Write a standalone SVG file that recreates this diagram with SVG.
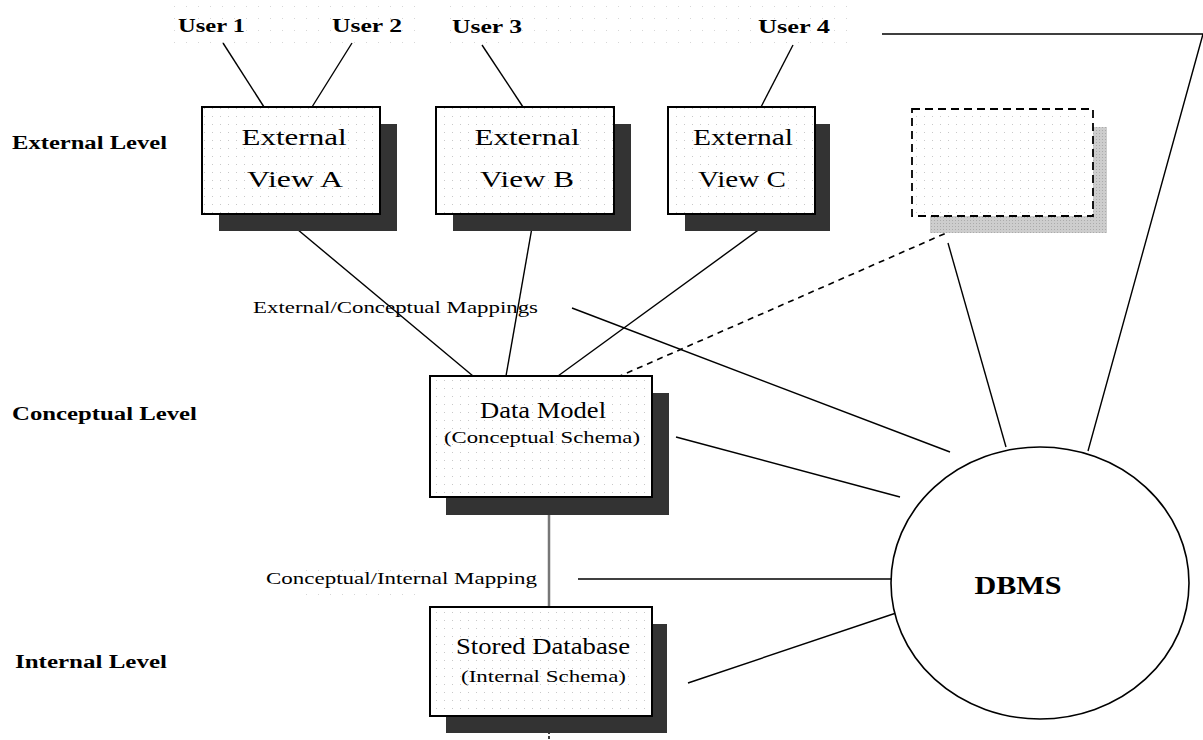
<svg xmlns="http://www.w3.org/2000/svg" width="1203" height="740" viewBox="0 0 1203 740">
<defs>
  <pattern id="dots" x="0" y="0" width="8" height="8" patternUnits="userSpaceOnUse">
    <rect x="4" y="4" width="1" height="1" fill="#c8c8c8"/>
  </pattern>
  <pattern id="bgDots" x="0" y="0" width="12" height="12" patternUnits="userSpaceOnUse">
    <rect x="6" y="6" width="1" height="1" fill="#d6d6d6"/>
  </pattern>
  <pattern id="grayDots" x="0" y="0" width="3" height="3" patternUnits="userSpaceOnUse">
    <rect width="3" height="3" fill="#cdcdcd"/>
    <rect x="1" y="1" width="1" height="1" fill="#ababab"/>
  </pattern>
</defs>
<style>
  .box { fill: #ffffff; stroke: #000; stroke-width: 2; }
  .dotfill { fill: url(#dots); }
  .bgdots { fill: url(#bgDots); }
  .shadow { fill: #333333; }
  .conn { stroke: #000; stroke-width: 1.4; fill: none; }
  .dash { stroke: #000; stroke-width: 1.6; fill: none; stroke-dasharray: 6 5; }
  .lvl { font-family: "Liberation Serif", serif; font-weight: bold; font-size: 18px; fill: #000; }
  .usr { font-family: "Liberation Serif", serif; font-weight: bold; font-size: 18px; fill: #000; }
  .bt { font-family: "Liberation Serif", serif; font-size: 23px; fill: #000; text-anchor: middle; }
  .st { font-family: "Liberation Serif", serif; font-size: 17px; fill: #000; }
  .dbms { font-family: "Liberation Serif", serif; font-size: 26px; font-weight: bold; fill: #000; text-anchor: middle; }
</style>
<rect width="1203" height="740" fill="#ffffff"/>

<!-- sparse background dots -->
<rect x="170" y="5" width="250" height="40" class="bgdots"/>
<rect x="440" y="5" width="180" height="40" class="bgdots"/>
<rect x="620" y="5" width="230" height="40" class="bgdots"/>
<rect x="300" y="560" width="120" height="40" class="bgdots"/>

<g id="labels">
  <text class="lvl" x="12" y="149" textLength="155" lengthAdjust="spacingAndGlyphs">External Level</text>
  <text class="lvl" x="12" y="420" textLength="185" lengthAdjust="spacingAndGlyphs">Conceptual Level</text>
  <text class="lvl" x="15" y="668" textLength="152" lengthAdjust="spacingAndGlyphs">Internal Level</text>
</g>

<g id="users">
  <text class="usr" x="178" y="32" textLength="67" lengthAdjust="spacingAndGlyphs">User 1</text>
  <text class="usr" x="332" y="32" textLength="70" lengthAdjust="spacingAndGlyphs">User 2</text>
  <text class="usr" x="452" y="33" textLength="70" lengthAdjust="spacingAndGlyphs">User 3</text>
  <text class="usr" x="758" y="33" textLength="72" lengthAdjust="spacingAndGlyphs">User 4</text>
</g>

<g id="connectors">
  <line class="conn" x1="223" y1="43" x2="264" y2="107"/>
  <line class="conn" x1="352" y1="43" x2="312" y2="107"/>
  <line class="conn" x1="482" y1="45" x2="523" y2="107"/>
  <line class="conn" x1="793" y1="45" x2="761" y2="107"/>
  <line class="conn" x1="279" y1="214" x2="473" y2="376"/>
  <line class="conn" x1="534" y1="216" x2="506" y2="376"/>
  <line class="conn" x1="779" y1="215" x2="558" y2="376"/>
  <line class="dash" x1="985" y1="216" x2="620" y2="376"/>
  <line class="conn" x1="572" y1="308" x2="950" y2="452"/>
  <line class="conn" x1="948" y1="243" x2="1006" y2="447"/>
  <polyline class="conn" points="882,34 1203,34 1088,451"/>
  <line class="conn" x1="676" y1="437" x2="900" y2="497"/>
  <line class="conn" x1="578" y1="579" x2="891" y2="579"/>
  <line class="conn" x1="688" y1="683" x2="911" y2="608"/>
  <line x1="549" y1="497" x2="549" y2="607" stroke="#777" stroke-width="2.5"/>
  <line x1="549" y1="716" x2="549" y2="740" stroke="#000" stroke-width="1.5" stroke-dasharray="3 2"/>
</g>

<g id="viewA">
  <rect class="shadow" x="219" y="124" width="178" height="107"/>
  <rect class="box" x="202" y="107" width="178" height="107"/>
  <rect class="dotfill" x="203" y="108" width="176" height="105"/>
  <text class="bt" x="294" y="145" textLength="105" lengthAdjust="spacingAndGlyphs">External</text>
  <text class="bt" x="295" y="187" textLength="96" lengthAdjust="spacingAndGlyphs">View A</text>
</g>
<g id="viewB">
  <rect class="shadow" x="453" y="124" width="178" height="107"/>
  <rect class="box" x="436" y="107" width="178" height="107"/>
  <rect class="dotfill" x="437" y="108" width="176" height="105"/>
  <text class="bt" x="527" y="145" textLength="105" lengthAdjust="spacingAndGlyphs">External</text>
  <text class="bt" x="527" y="187" textLength="94" lengthAdjust="spacingAndGlyphs">View B</text>
</g>
<g id="viewC">
  <rect class="shadow" x="685" y="124" width="145" height="107"/>
  <rect class="box" x="668" y="107" width="147" height="107"/>
  <rect class="dotfill" x="669" y="108" width="145" height="105"/>
  <text class="bt" x="743" y="145" textLength="100" lengthAdjust="spacingAndGlyphs">External</text>
  <text class="bt" x="742" y="187" textLength="88" lengthAdjust="spacingAndGlyphs">View C</text>
</g>
<g id="viewD">
  <rect x="930" y="127" width="177" height="106" fill="url(#grayDots)"/>
  <rect x="912" y="109" width="181" height="107" fill="#ffffff"/>
  <rect class="dotfill" x="913" y="110" width="179" height="105"/>
  <rect x="912" y="109" width="181" height="107" fill="none" stroke="#000" stroke-width="1.8" stroke-dasharray="8 5"/>
</g>

<g id="dataModel">
  <rect class="shadow" x="446" y="393" width="223" height="122"/>
  <rect class="box" x="430" y="376" width="222" height="121"/>
  <rect class="dotfill" x="431" y="377" width="220" height="119"/>
  <text class="bt" x="543" y="418" font-size="20" textLength="126" lengthAdjust="spacingAndGlyphs">Data Model</text>
  <text class="st" x="444" y="443" textLength="196" lengthAdjust="spacingAndGlyphs">(Conceptual Schema)</text>
</g>

<g id="storedDb">
  <rect class="shadow" x="446" y="624" width="221" height="109"/>
  <rect class="box" x="430" y="607" width="222" height="109"/>
  <rect class="dotfill" x="431" y="608" width="220" height="107"/>
  <text class="bt" x="543" y="654" font-size="19" textLength="174" lengthAdjust="spacingAndGlyphs">Stored Database</text>
  <text class="st" x="461" y="682" textLength="165" lengthAdjust="spacingAndGlyphs">(Internal Schema)</text>
</g>

<g id="mappingLabels">
  <text class="st" x="253" y="313" textLength="285" lengthAdjust="spacingAndGlyphs">External/Conceptual Mappings</text>
  <text class="st" x="266" y="584" textLength="271" lengthAdjust="spacingAndGlyphs">Conceptual/Internal Mapping</text>
</g>

<g id="dbms">
  <ellipse cx="1040" cy="583" rx="149" ry="136" fill="#ffffff" stroke="#000" stroke-width="1.6"/>
  <text class="dbms" x="1018" y="594" textLength="87" lengthAdjust="spacingAndGlyphs">DBMS</text>
</g>
</svg>
